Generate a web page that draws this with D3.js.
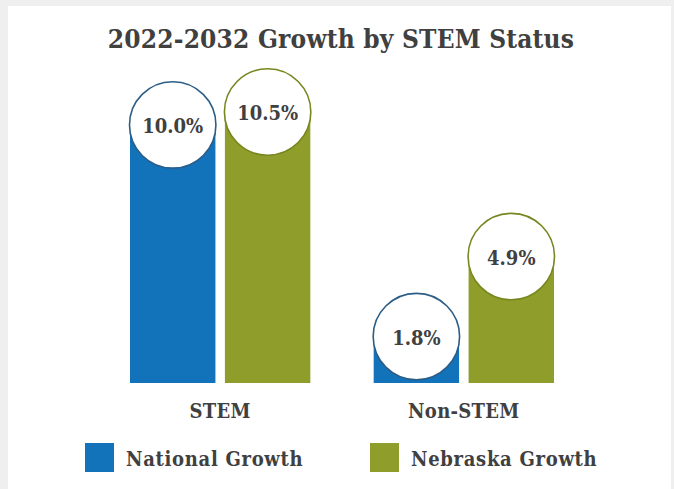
<!DOCTYPE html>
<html>
<head>
<meta charset="utf-8">
<script src="https://cdn.jsdelivr.net/npm/d3@7"></script>
<style>
  html, body { margin: 0; padding: 0; background: #fff; }
  svg { display: block; }
  text { font-family: "DejaVu Serif", serif; fill: #404040; font-weight: bold; font-stretch: condensed; }
</style>
</head>
<body>
<svg id="viz" width="674" height="489"></svg>
<script>
const categories = ["STEM", "Non-STEM"];
const series = ["National Growth", "Nebraska Growth"];
const national = [10.0, 1.8];
const nebraska = [10.5, 4.9];
const colors = ["#1272ba", "#8f9d2b"];
const strokes = ["#2c5d87", "#77861f"];

const svg = d3.select("#viz");
const width = 674, height = 489;

// card background
svg.append("rect").attr("width", width).attr("height", height).attr("fill", "#efefef");
svg.append("rect").attr("x", 8).attr("y", 6).attr("width", 663).attr("height", height)
  .attr("fill", "#fff");

svg.append("text")
  .attr("x", 341).attr("y", 48)
  .attr("text-anchor", "middle")
  .style("font-size", "26px")
  .style("letter-spacing", "0.2px")
  .text("2022-2032 Growth by STEM Status");

const x0 = d3.scaleBand().domain(categories).range([130, 554]).paddingInner(0.26);
const x1 = d3.scaleBand().domain(series).range([0, x0.bandwidth()]).paddingInner(0.1);
const y = d3.scaleLinear().domain([0, 10.5]).range([383, 112]);

const rows = categories.map((c, i) => ({
  cat: c,
  vals: [national[i], nebraska[i]].map((v, j) => ({ key: series[j], v, j }))
}));

const groups = svg.selectAll(".grp").data(rows).enter().append("g")
  .attr("class", "grp")
  .attr("transform", d => `translate(${x0(d.cat)},0)`);

groups.selectAll("rect").data(d => d.vals).enter().append("rect")
  .attr("x", d => x1(d.key))
  .attr("y", d => y(d.v))
  .attr("width", x1.bandwidth())
  .attr("height", d => y(0) - y(d.v))
  .attr("fill", d => colors[d.j]);

const r = x1.bandwidth() / 2 + 0.5;
groups.selectAll("circle").data(d => d.vals).enter().append("circle")
  .attr("cx", d => x1(d.key) + x1.bandwidth() / 2)
  .attr("cy", d => y(d.v))
  .attr("r", r)
  .attr("fill", "#fff")
  .attr("stroke", d => strokes[d.j])
  .attr("stroke-width", 1.6);

groups.selectAll(".val").data(d => d.vals).enter().append("text")
  .attr("class", "val")
  .attr("x", d => x1(d.key) + x1.bandwidth() / 2)
  .attr("y", d => y(d.v) + 8)
  .attr("text-anchor", "middle")
  .style("font-size", "20px")
  .text(d => d.v.toFixed(1) + "%");

svg.selectAll(".cat").data(categories).enter().append("text")
  .attr("class", "cat")
  .attr("x", d => x0(d) + x0.bandwidth() / 2)
  .attr("y", 418)
  .attr("text-anchor", "middle")
  .style("font-size", "20px")
  .style("letter-spacing", "0.3px")
  .text(d => d);

// legend
const legX = [85, 370];
const leg = svg.selectAll(".leg").data(series).enter().append("g")
  .attr("class", "leg")
  .attr("transform", (d, i) => `translate(${legX[i]},443)`);
leg.append("rect").attr("width", 29).attr("height", 29).attr("fill", (d, i) => colors[i]);
leg.append("text")
  .attr("x", 41).attr("y", 23)
  .style("font-size", "20px")
  .style("letter-spacing", "0.7px")
  .text(d => d);
</script>
</body>
</html>
